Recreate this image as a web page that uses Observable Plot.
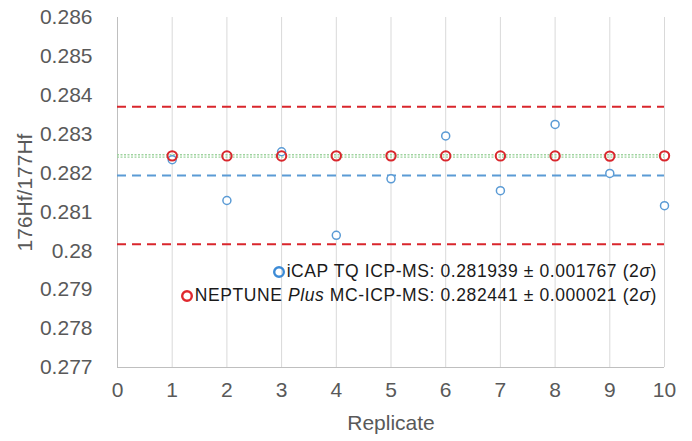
<!DOCTYPE html>
<html>
<head>
<meta charset="utf-8">
<script src="https://cdn.jsdelivr.net/npm/d3@7"></script>
<script src="https://cdn.jsdelivr.net/npm/@observablehq/plot@0.6"></script>
<style>
  html, body { margin: 0; padding: 0; background: #fff; }
  #wrap { position: relative; width: 692px; height: 441px; font-family: "Liberation Sans", Arial, sans-serif; }
  .leg { position: absolute; right: 35px; font-size: 17.5px; letter-spacing: 0.6px; color: #1a1a1a; white-space: nowrap; display: flex; align-items: center; }
  .leg svg { margin-right: 1px; }
</style>
</head>
<body>
<div id="wrap"></div>
<script>
const replicates = [1, 2, 3, 4, 5, 6, 7, 8, 9, 10];
const icapValues = [0.282345, 0.281294, 0.282548, 0.280400, 0.281853, 0.282954, 0.281548, 0.283249, 0.281990, 0.281160];
const neptuneValues = [0.282442, 0.282441, 0.282440, 0.282442, 0.282442, 0.282441, 0.282441, 0.282441, 0.282436, 0.282442];
const icapMean = 0.281939, icap2s = 0.001767;
const neptuneMean = 0.282441, neptuneBand = 0.000030;
const yTicks = [0.277, 0.278, 0.279, 0.280, 0.281, 0.282, 0.283, 0.284, 0.285, 0.286];
const xTicks = [0, 1, 2, 3, 4, 5, 6, 7, 8, 9, 10];
const yLabel = "176Hf/177Hf";
const xLabel = "Replicate";

const icap = replicates.map((r, i) => ({x: r, y: icapValues[i]}));
const nep = replicates.map((r, i) => ({x: r, y: neptuneValues[i]}));

const chart = Plot.plot({
  width: 692, height: 441,
  marginLeft: 117, marginRight: 28, marginTop: 17, marginBottom: 74,
  style: {fontFamily: "Liberation Sans, Arial, sans-serif", color: "#595959", background: "transparent"},
  x: {domain: [0, 10]},
  y: {domain: [0.277, 0.286]},
  marks: [
    Plot.ruleX(xTicks.slice(1), {stroke: "#d9d9d9", strokeWidth: 1}),
    Plot.ruleX([0], {stroke: "#bfbfbf", strokeWidth: 1}),
    Plot.ruleY([0.277], {stroke: "#bfbfbf", strokeWidth: 1}),
    Plot.axisY({ticks: yTicks, tickSize: 0, tickPadding: 25, tickFormat: d3.format(".3~f"), fontSize: 21, label: null}),
    Plot.axisX({ticks: xTicks, tickSize: 0, tickPadding: 15, tickFormat: d => String(d), fontSize: 21, label: null}),
    Plot.text([yLabel], {frameAnchor: "left", textAnchor: "middle", dx: -92, dy: 0, rotate: -90, fontSize: 21, letterSpacing: "1.6px", fill: "#595959", text: d => d}),
    Plot.text([xLabel], {frameAnchor: "bottom", textAnchor: "middle", dy: 62, fontSize: 21, letterSpacing: "0.5px", fill: "#595959", text: d => d}),
    Plot.ruleY([neptuneMean + neptuneBand, neptuneMean - neptuneBand], {x1: 0, x2: 10, stroke: "#9fd39f", strokeWidth: 1.3, strokeDasharray: "2,1.5"}),
    Plot.ruleY([icapMean], {x1: 0, x2: 10, stroke: "#5b9bd5", strokeWidth: 2, strokeDasharray: "9,6"}),
    Plot.ruleY([icapMean + icap2s, icapMean - icap2s], {x1: 0, x2: 10, stroke: "#d9262c", strokeWidth: 2, strokeDasharray: "9,6"}),
    Plot.dot(icap, {x: "x", y: "y", r: 4, stroke: "#5b9bd5", strokeWidth: 1.5, fill: "white"}),
    Plot.dot(nep, {x: "x", y: "y", r: 4.7, stroke: "#d9262c", strokeWidth: 2})
  ]
});
const wrap = document.getElementById("wrap");
wrap.appendChild(chart);

function legendRow(top, color, html) {
  const d = document.createElement("div");
  d.className = "leg";
  d.style.top = top + "px";
  d.innerHTML = `<svg width="14" height="14"><circle cx="7" cy="7" r="4.8" fill="none" stroke="${color}" stroke-width="2.4"/></svg><span>${html}</span>`;
  wrap.appendChild(d);
}
legendRow(261, "#3d8bd6", `iCAP TQ ICP-MS: ${icapMean} ± ${icap2s.toFixed(6)} (2<i>σ</i>)`);
legendRow(285, "#e0282e", `NEPTUNE <i>Plus</i> MC-ICP-MS: ${neptuneMean} ± 0.000021 (2<i>σ</i>)`);
</script>
</body>
</html>
